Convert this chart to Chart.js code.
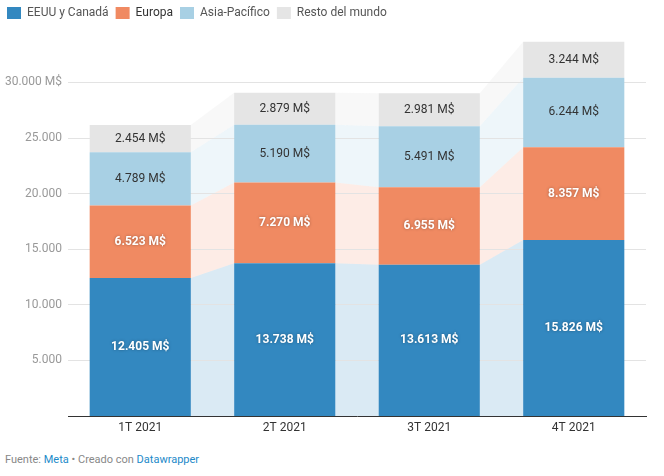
<!DOCTYPE html>
<html>
<head>
<meta charset="utf-8">
<script src="https://cdn.jsdelivr.net/npm/chart.js@4"></script>
<style>
    body { margin: 0; background: #fff; font-family: Roboto, sans-serif; }
    #wrap { position: relative; width: 664px; height: 441px; }
    #pie { position: absolute; left: 5px; top: 453px; font-size: 11px; color: #888; }
    #pie a { color: #1d8ac9; text-decoration: none; }
</style>
</head>
<body>
<div id="wrap"><canvas id="ingresosChart"></canvas></div>
<div id="pie">Fuente: <a>Meta</a> • Creado con <a>Datawrapper</a></div>
<script>
const categorias = ['1T 2021', '2T 2021', '3T 2021', '4T 2021'];
const eeuuCanada = [12405, 13738, 13613, 15826];
const europa = [6523, 7270, 6955, 8357];
const asiaPacifico = [4789, 5190, 5491, 6244];
const restoMundo = [2454, 2879, 2981, 3244];
const nombresSeries = ['EEUU y Canadá', 'Europa', 'Asia-Pacífico', 'Resto del mundo'];
const ticksEje = [5000, 10000, 15000, 20000, 25000, 30000];

const colores = ['#3388c0', '#f08a62', '#a8d0e4', '#e5e5e5'];
const coloresUnion = ['rgba(51,136,192,0.18)', 'rgba(240,138,98,0.16)', 'rgba(168,208,228,0.2)', 'rgba(229,229,229,0.25)'];
const etiquetaBlanca = [true, true, false, false];

const formato = v => String(v).replace(/\B(?=(\d{3})+(?!\d))/g, '.');

// bandas que unen cada segmento con el de la barra siguiente
const unionesPlugin = {
    id: 'uniones',
    beforeDraw(chart) {
        const ctx = chart.ctx;
        ctx.save();
        chart.data.datasets.forEach((ds, s) => {
            const els = chart.getDatasetMeta(s).data;
            ctx.fillStyle = coloresUnion[s];
            for (let i = 0; i < els.length - 1; i++) {
                const a = els[i], b = els[i + 1];
                const xa = a.x + a.width / 2, xb = b.x - b.width / 2;
                ctx.beginPath();
                ctx.moveTo(xa, a.y);
                ctx.lineTo(xb, b.y);
                ctx.lineTo(xb, b.base);
                ctx.lineTo(xa, a.base);
                ctx.closePath();
                ctx.fill();
            }
        });
        ctx.restore();
    }
};

const etiquetasPlugin = {
    id: 'etiquetas',
    afterDatasetsDraw(chart) {
        const ctx = chart.ctx;
        ctx.save();
        ctx.textAlign = 'center';
        ctx.textBaseline = 'middle';
        chart.data.datasets.forEach((ds, s) => {
            chart.getDatasetMeta(s).data.forEach((el, i) => {
                const texto = formato(ds.data[i]) + ' M$';
                const y = (el.y + el.base) / 2;
                if (etiquetaBlanca[s]) {
                    ctx.font = 'bold 12px Roboto';
                    ctx.fillStyle = '#fff';
                    ctx.shadowColor = 'rgba(0,0,0,0.35)';
                    ctx.shadowBlur = 3;
                } else {
                    ctx.font = '12px Roboto';
                    ctx.fillStyle = '#333';
                    ctx.shadowColor = 'transparent';
                    ctx.shadowBlur = 0;
                }
                ctx.fillText(texto, el.x, y);
            });
        });
        ctx.restore();
    }
};

const leyendaAltura = {
    id: 'leyendaAltura',
    beforeLayout(chart) {
        const lg = chart.legend;
        if (lg && !lg._fijada) {
            const fitOriginal = lg.fit;
            lg.fit = function () { fitOriginal.call(this); this.height = 38; };
            lg._fijada = true;
        }
    }
};

const series = [eeuuCanada, europa, asiaPacifico, restoMundo];

new Chart(document.getElementById('ingresosChart'), {
    type: 'bar',
    data: {
        labels: categorias,
        datasets: series.map((valores, s) => ({
            label: nombresSeries[s],
            data: valores,
            backgroundColor: colores[s],
            borderWidth: 0,
            barPercentage: 0.7,
            categoryPercentage: 1
        }))
    },
    options: {
        responsive: true,
        maintainAspectRatio: false,
        animation: false,
        layout: { padding: { left: 0, right: 18, top: 0, bottom: 0 } },
        scales: {
            x: {
                stacked: true,
                grid: { display: false, drawTicks: false },
                border: { display: true, color: '#333', width: 1 },
                ticks: { color: '#333', font: { family: 'Roboto', size: 12 }, padding: 5 },
                afterFit(scale) { scale.height = 25; }
            },
            y: {
                stacked: true,
                min: 0,
                max: 34000,
                afterBuildTicks(scale) {
                    scale.ticks = ticksEje.map(v => ({ value: v }));
                },
                grid: { color: '#e3e3e3', drawTicks: false },
                border: { display: false },
                ticks: {
                    color: '#999',
                    font: { family: 'Roboto', size: 12 },
                    padding: 6,
                    callback: v => formato(v) + (v === 30000 ? ' M$' : '')
                },
                afterFit(scale) { scale.width = 68; }
            }
        },
        plugins: {
            legend: {
                position: 'top',
                align: 'start',
                labels: {
                    boxWidth: 14,
                    boxHeight: 12,
                    padding: 7,
                    color: '#555',
                    font: { family: 'Roboto', size: 12 },
                    generateLabels(chart) {
                        return chart.data.datasets.map((ds, i) => ({
                            text: ds.label,
                            fillStyle: colores[i],
                            strokeStyle: colores[i],
                            lineWidth: 0,
                            fontColor: i === 1 ? '#333' : '#555',
                            datasetIndex: i
                        }));
                    }
                }
            },
            tooltip: { enabled: false }
        }
    },
    plugins: [unionesPlugin, etiquetasPlugin, leyendaAltura]
});
</script>
</body>
</html>
